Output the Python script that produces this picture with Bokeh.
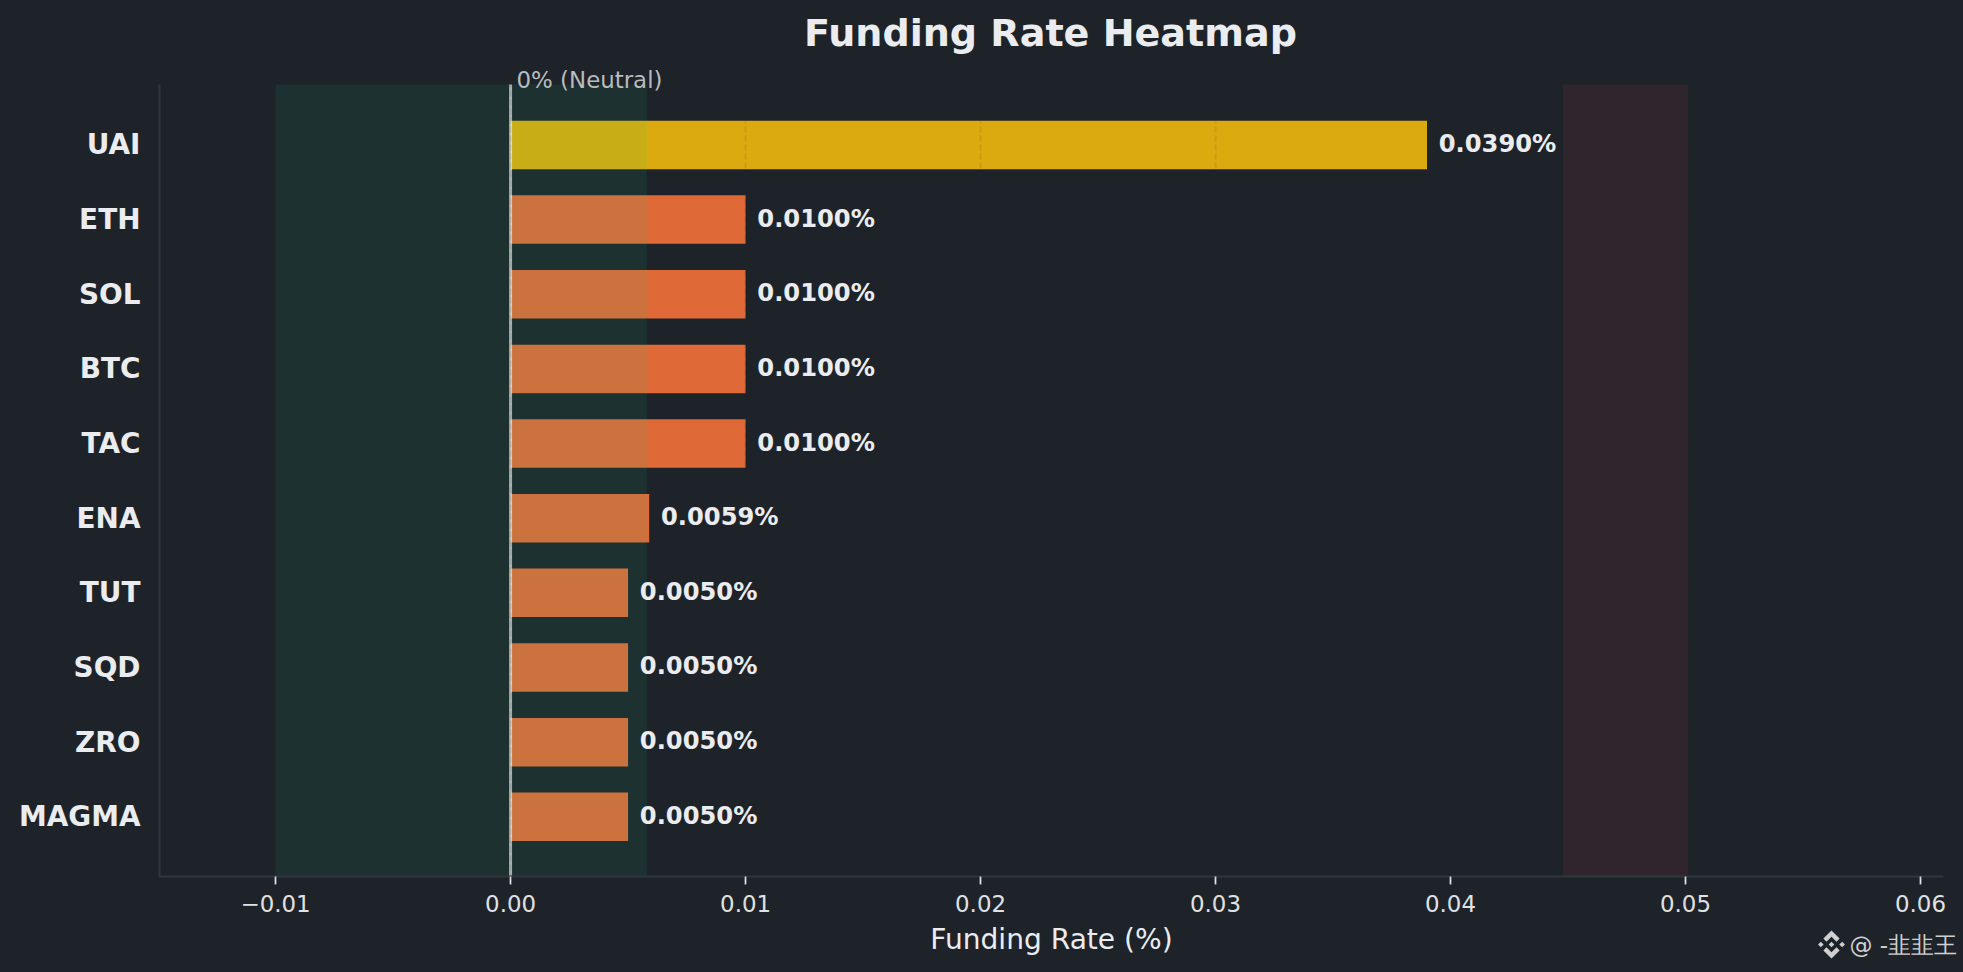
from bokeh.core.properties import value
from bokeh.embed import file_html
from bokeh.resources import INLINE
from bokeh.plotting import figure
from bokeh.models import ColumnDataSource, Range1d, FixedTicker

BG = "#1e2329"
symbols = ["UAI", "ETH", "SOL", "BTC", "TAC", "ENA", "TUT", "SQD", "ZRO", "MAGMA"]
rates = [0.0390, 0.0100, 0.0100, 0.0100, 0.0100, 0.0059, 0.0050, 0.0050, 0.0050, 0.0050]
bar_colors = ["#dbaa0e"] + ["#df6a38"] * 9
x_ticks = [-0.01, 0.0, 0.01, 0.02, 0.03, 0.04, 0.05, 0.06]
x_tick_labels = ["\u22120.01", "0.00", "0.01", "0.02", "0.03", "0.04", "0.05", "0.06"]
green_zone = (-0.01, 0.0058)
red_zone = (0.0448, 0.0501)

W, H = 1963, 972
FL, FR, FT, FB = 159, 1943, 84, 876   # plot-area edges in page pixels
XMIN, XMAX, YTOP, YBOT = -0.01494, 0.06098, -0.81, 9.80
positions = list(range(len(symbols)))

def dx(px):
    return XMIN + (px - FL) * (XMAX - XMIN) / (FR - FL)
def dy(py):
    return YTOP + (py - FT) * (YBOT - YTOP) / (FB - FT)

p = figure(width=W, height=H, output_backend="svg", toolbar_location=None,
           x_range=Range1d(dx(0), dx(W)), y_range=Range1d(dy(H), dy(0)),
           min_border_left=0, min_border_right=0, min_border_top=0, min_border_bottom=0,
           background_fill_color=BG, border_fill_color=BG, outline_line_color=None)

src = ColumnDataSource(dict(y=positions, right=rates, color=bar_colors,
                            tx=[r + 0.0005 for r in rates],
                            label=[f"{r:.4f}%" for r in rates]))
DV = value("DejaVu Sans")
p.hbar(y="y", left=0, right="right", height=0.65, color="color", line_color=None, source=src)

# shaded zones drawn over the bars
for zone, col in ((green_zone, "#0ecb81"), (red_zone, "#f6465d")):
    p.quad(left=zone[0], right=zone[1], top=YTOP, bottom=YBOT, fill_color=col, fill_alpha=0.085, line_color=None)

# neutral line
p.segment(x0=0, x1=0, y0=YTOP, y1=YBOT, line_color="#ffffff", line_alpha=0.62, line_width=3)

p.text(x="tx", y="y", text="label", source=src, text_color="#eaecef",
       text_font_size="24.2px", text_font_style="bold", text_font=DV,
       text_baseline="middle", text_align="left", y_offset=-1)

# axes
xa = p.xaxis[0]
xa.fixed_location = YBOT
xa.bounds = (XMIN, XMAX)
xa.ticker = FixedTicker(ticks=x_ticks)
xa.major_label_overrides = dict(zip(x_ticks, x_tick_labels))
xa.major_label_text_color = "#e0e2e4"
xa.major_label_text_font = "DejaVu Sans"
xa.major_label_text_font_size = "22.9px"
xa.major_label_standoff = 10
xa.major_tick_in = 0
xa.major_tick_out = 8
xa.major_tick_line_color = "#eaecef"
xa.major_tick_line_width = 1.7
xa.minor_tick_line_color = None
xa.axis_line_color = "#30363d"
xa.axis_line_width = 2
xa.axis_label = "Funding Rate (%)"
xa.axis_label_text_color = "#eaecef"
xa.axis_label_text_font = "DejaVu Sans"
xa.axis_label_text_font_style = "normal"
xa.axis_label_text_font_size = "28.1px"
xa.axis_label_standoff = 8

ya = p.yaxis[0]
ya.fixed_location = XMIN
ya.bounds = (YTOP, YBOT)
ya.ticker = FixedTicker(ticks=positions)
ya.major_label_overrides = dict(zip(positions, symbols))
ya.major_label_text_color = "#eaecef"
ya.major_label_text_font = "DejaVu Sans"
ya.major_label_text_font_style = "bold"
ya.major_label_text_font_size = "27.9px"
ya.major_label_standoff = 13
ya.major_tick_line_color = None
ya.minor_tick_line_color = None
ya.axis_line_color = "#30363d"
ya.axis_line_width = 2

p.ygrid.visible = False
p.xgrid.ticker = FixedTicker(ticks=x_ticks)
p.xgrid.bounds = (YTOP, YBOT)
p.xgrid.grid_line_color = "#2b3139"
p.xgrid.grid_line_alpha = 0.1
p.xgrid.grid_line_width = 2
p.xgrid.grid_line_dash = "6 3"
p.xgrid.level = "overlay"

# texts
p.text(x=[dx(516)], y=[dy(79.2)], text=["0% (Neutral)"], text_color="#b9bcbf",
       text_font=DV, text_font_size="22.9px", text_baseline="alphabetic")
p.text(x=[dx(1050)], y=[dy(32.7)], text=["Funding Rate Heatmap"], text_align="center",
       text_color="#eaecef", text_font=DV, text_font_style="bold",
       text_font_size="38.1px", text_baseline="alphabetic")
p.text(x=[dx(1849)], y=[dy(944)], text=["@ -\u97ed\u97ed\u738b"],
       text_color="#d0d0d0", text_font=DV, text_font_size="23px", text_baseline="alphabetic")

# watermark logo
cx, cy, r = 1831, 944, 14
top = [(0, 1), (.58, .42), (.36, .2), (0, .56), (-.36, .2), (-.58, .42)]
bottom = [(a, -b) for a, b in top]
def dia(x0, y0, s=.2):
    return [(x0, y0 + s), (x0 + s, y0), (x0, y0 - s), (x0 - s, y0)]
shapes = (top, bottom, dia(0, 0), dia(.76, 0), dia(-.76, 0))
p.patches(xs=[[dx(cx + a * r) for a, b in s] for s in shapes],
          ys=[[dy(cy - b * r) for a, b in s] for s in shapes],
          fill_color="#d0d0d0", line_color=None)

html = file_html(p, INLINE)
html = html.replace("</head>", "<style>html,body{background:%s}</style></head>" % BG, 1)
open("out.html", "w").write(html)
